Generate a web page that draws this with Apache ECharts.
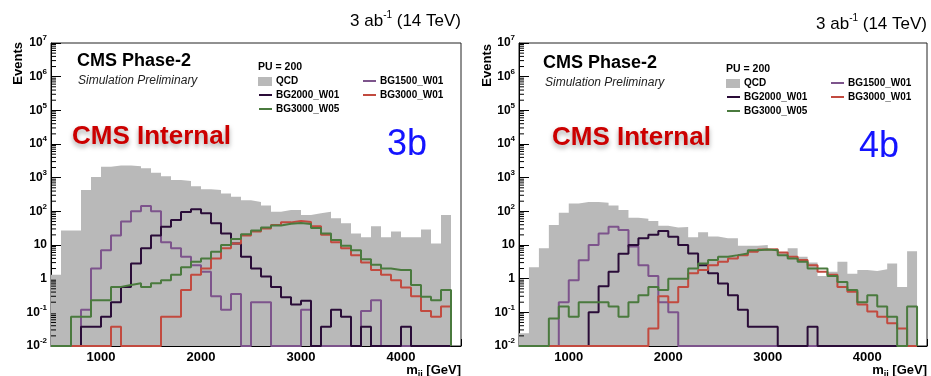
<!DOCTYPE html>
<html>
<head>
<meta charset="utf-8">
<script src="https://cdn.jsdelivr.net/npm/echarts@6/dist/echarts.min.js"></script>
<style>
  html, body { margin: 0; padding: 0; background: #fff; }
  #chart { width: 931px; height: 376px; }
</style>
</head>
<body>
<div id="chart"></div>
<script>
// bin lower edges in GeV (100 GeV bins), last bin ends at 4500
const binLow = [500, 600, 700, 800, 900, 1000, 1100, 1200, 1300, 1400,
  1500, 1600, 1700, 1800, 1900, 2000, 2100, 2200, 2300, 2400,
  2500, 2600, 2700, 2800, 2900, 3000, 3100, 3200, 3300, 3400,
  3500, 3600, 3700, 3800, 3900, 4000, 4100, 4200, 4300, 4400];
const binHigh = 4500;

const seriesNames = ["QCD", "BG1500_W01", "BG2000_W01", "BG3000_W01", "BG3000_W05"];
const panelTags = ["3b", "4b"];

// 3b selection
const qcd3b = [1.3, 27, 27, 430, 1050, 2100, 2300, 2300, 2200, 1900,
  1400, 1100, 850, 800, 560, 450, 430, 340, 270, 215,
  190, 150, 98, 110, 110, 78, 87, 98, 62, 44,
  22, 17, 36, 17, 25, 17, 17, 29, 11, 78];
const bg1500w01_3b = [0, 0, 0, 0.12, 2.0, 7, 19, 50, 100, 145,
  100, 12, 8, 4.5, 2.5, 1.6, 0.3, 0.12, 0.35, 0,
  0.2, 0.2, 0, 0, 0, 0.12, 0, 0, 0, 0,
  0, 0.11, 0.23, 0, 0, 0, 0, 0, 0, 0];
const bg2000w01_3b = [0, 0, 0, 0.037, 0.037, 0.074, 0.2, 0.57, 2.8, 8,
  19, 35, 55, 95, 115, 88, 44, 22, 11, 4.5,
  2, 1.15, 0.57, 0.28, 0.17, 0.22, 0, 0.037, 0.12, 0.074,
  0, 0.037, 0, 0, 0, 0.037, 0, 0, 0, 0];
const bg3000w01_3b = [0, 0, 0, 0, 0, 0, 0.037, 0, 0, 0,
  0, 0.074, 0.074, 0.46, 1.3, 2.0, 4, 8, 11, 19,
  25, 31, 39, 47, 52, 48, 36, 20, 12, 8,
  5, 3, 1.8, 1.3, 0.9, 0.55, 0.3, 0.11, 0.074, 0.15];
const bg3000w05_3b = [0, 0, 0.074, 0.074, 0.23, 0.23, 0.57, 0.65, 0.73, 0.57,
  0.73, 0.9, 1.3, 2.2, 3.2, 4, 6.3, 10, 15, 21,
  27, 33, 38, 43, 45, 42, 32, 22, 14, 9.5,
  7, 3.8, 2.6, 2.0, 1.8, 1.8, 0.65, 0.29, 0.23, 0.46];

// 4b selection
const qcd4b = [0.024, 2.2, 8, 39, 90, 170, 190, 190, 180, 150,
  110, 65, 60, 52, 37, 33, 34, 17, 24, 18,
  16, 16, 9.5, 9.5, 10, 7, 6, 8, 4.5, 3,
  1.2, 1.6, 3.2, 1.4, 1.8, 1.7, 1.9, 2.8, 0.57, 6.5];
const bg1500w01_4b = [0, 0, 0, 0, 0.2, 0.9, 3.5, 10, 22, 35,
  28, 9, 2.5, 1.2, 0.2, 0.1, 0, 0, 0, 0,
  0, 0, 0, 0, 0, 0, 0, 0, 0, 0,
  0, 0, 0, 0, 0, 0, 0, 0, 0, 0];
const bg2000w01_4b = [0, 0, 0, 0, 0, 0, 0, 0.1, 0.6, 1.6,
  5.5, 10, 16, 20, 26, 17.5, 10, 5.6, 2.5, 1.44,
  0.72, 0.32, 0.12, 0.037, 0.037, 0.037, 0, 0, 0, 0.037,
  0, 0, 0, 0, 0, 0, 0, 0, 0, 0];
const bg3000w01_4b = [0, 0, 0, 0, 0, 0, 0, 0, 0, 0,
  0, 0, 0, 0.033, 0.3, 0.2, 0.57, 1.44, 1.8, 2.5,
  3.2, 4, 5, 6.3, 7.4, 7.5, 6, 4.5, 3.6, 2.5,
  1.6, 1.3, 0.57, 0.41, 0.17, 0.105, 0.074, 0.047, 0.033, 0];
const bg3000w05_4b = [0, 0, 0, 0.066, 0.15, 0.074, 0.2, 0.2, 0.2, 0.15,
  0.074, 0.2, 0.32, 0.57, 0.46, 1.0, 1.0, 2.0, 2.8, 3.6,
  4.5, 5, 5.6, 7, 7.4, 7, 5, 4, 3.2, 2.0,
  2.0, 1.2, 0.8, 0.46, 0.2, 0.32, 0.15, 0.074, 0, 0.15];

const panelData = [
  [qcd3b, bg1500w01_3b, bg2000w01_3b, bg3000w01_3b, bg3000w05_3b],
  [qcd4b, bg1500w01_4b, bg2000w01_4b, bg3000w01_4b, bg3000w05_4b]
];

const colors = ["#b9b9b9", "#7d548c", "#2a0c38", "#c24a3f", "#4a7a3e"];
const font = '"Liberation Sans", Arial, Helvetica, sans-serif';
const xMin = 500, xMax = 4600, yMin = 0.01, yMax = 1e7;

// frame placement of each pad
const pads = [
  { left: 51, right: 461, dy: 0 },
  { left: 519, right: 927, dy: 2 }
];

// histogram outline: rise from the floor, step per bin, drop back at the end
function histPoints(values) {
  const pts = [[binLow[0], yMin]];
  binLow.forEach((x, i) => pts.push([x, Math.max(values[i], yMin)]));
  pts.push([binHigh, Math.max(values[values.length - 1], yMin)]);
  pts.push([binHigh, yMin]);
  return pts;
}

// ROOT style log minor ticks (2..9 in each decade)
const minorTicks = [];
for (let e = -2; e < 7; e++) {
  for (let m = 2; m <= 9; m++) minorTicks.push([xMin, m * Math.pow(10, e)]);
}

const yLabel = (v) => {
  const e = Math.round(Math.log10(v));
  if (e === 0) return "{b|1}";
  if (e === 1) return "{b|10}";
  return "{b|10}{s|" + e + "}";
};

const grids = [], xAxes = [], yAxes = [], series = [], graphics = [];

pads.forEach((pad, p) => {
  grids.push({
    left: pad.left, top: 43, width: pad.right - pad.left, height: 303,
    show: true, borderColor: "#222", borderWidth: 1, backgroundColor: "transparent"
  });
  xAxes.push({
    type: "value", gridIndex: p, min: xMin, max: xMax, interval: 500,
    axisLine: { show: true, onZero: false, lineStyle: { color: "#000", width: 1 } },
    axisTick: { show: true, inside: true, length: 7, lineStyle: { color: "#000" } },
    splitLine: { show: false },
    axisLabel: {
      margin: 5, color: "#000", fontFamily: font, fontWeight: "bold", fontSize: 13,
      formatter: (v) => (v % 1000 === 0 ? String(v) : "")
    }
  });
  yAxes.push({
    type: "log", logBase: 10, gridIndex: p, min: yMin, max: yMax, splitNumber: 9,
    axisLine: { show: true, lineStyle: { color: "#000", width: 1 } },
    axisTick: { show: true, inside: true, length: 10, lineStyle: { color: "#000" } },
    splitLine: { show: false },
    axisLabel: {
      margin: 4, color: "#000", fontFamily: font,
      formatter: yLabel,
      rich: {
        b: { fontSize: 12, fontWeight: "bold", fontFamily: font, lineHeight: 18, color: "#000" },
        s: { fontSize: 8, fontWeight: "bold", fontFamily: font, lineHeight: 9, verticalAlign: "top", color: "#000" }
      }
    }
  });

  panelData[p].forEach((values, k) => {
    const isQcd = k === 0;
    series.push({
      name: seriesNames[k],
      type: "line",
      xAxisIndex: p, yAxisIndex: p,
      data: histPoints(values),
      step: "end",
      symbol: "none",
      clip: false,
      silent: true,
      z: 2 + k,
      lineStyle: isQcd ? { width: 0, color: colors[0] } : { width: 2, color: colors[k] },
      areaStyle: isQcd ? { color: colors[0], opacity: 1, origin: "start" } : undefined
    });
  });

  series.push({
    type: "custom",
    xAxisIndex: p, yAxisIndex: p,
    data: minorTicks,
    silent: true,
    z: 20,
    renderItem: (params, api) => {
      const pt = api.coord([api.value(0), api.value(1)]);
      return {
        type: "line",
        shape: { x1: pt[0], y1: pt[1], x2: pt[0] + 5, y2: pt[1] },
        style: { stroke: "#000", lineWidth: 1 }
      };
    }
  });

  const L = pad.left, R = pad.right, dy = pad.dy;
  graphics.push(
    {
      type: "text", x: R, y: 21 + dy + (p ? 1 : 0),
      style: {
        text: "{a|3 ab}{s|-1}{a| (14 TeV)}", align: "right", verticalAlign: "middle",
        rich: {
          a: { fontSize: 17, fontFamily: font, lineHeight: 22, fill: "#000" },
          s: { fontSize: 10, fontFamily: font, lineHeight: 12, verticalAlign: "top", fill: "#000" }
        }
      }
    },
    {
      type: "text", x: L - 33 + (p ? 1 : 0), y: 42 + dy, rotation: Math.PI / 2,
      style: { text: "Events", font: "bold 13px " + font, fill: "#000", align: "right", verticalAlign: "middle" }
    },
    {
      type: "text", x: R, y: 370,
      style: {
        text: "{a|m}{s|jj}{a| [GeV]}", align: "right", verticalAlign: "middle",
        rich: {
          a: { fontSize: 13, fontWeight: "bold", fontFamily: font, lineHeight: 18, fill: "#000" },
          s: { fontSize: 9, fontWeight: "bold", fontFamily: font, lineHeight: 11, verticalAlign: "bottom", fill: "#000" }
        }
      }
    },
    {
      type: "text", x: L + 26 - (p ? 2 : 0), y: 61 + dy,
      style: { text: "CMS Phase-2", font: "bold 18px " + font, fill: "#000", verticalAlign: "middle" }
    },
    {
      type: "text", x: L + 27 - (p ? 1 : 0), y: 81 + dy,
      style: { text: "Simulation Preliminary", font: "italic 12px " + font, fill: "#222", verticalAlign: "middle" }
    },
    {
      type: "text", x: L + 207, y: 67 + dy,
      style: { text: "PU = 200", font: "bold 10.5px " + font, fill: "#000", verticalAlign: "middle" }
    },
    {
      type: "text", x: L + 21 + (p ? 12 : 0), y: 137 + dy / 2,
      style: {
        text: "CMS Internal", font: "bold 26px " + font, fill: "#cc0000", verticalAlign: "middle",
        textShadowColor: "rgba(0,0,0,0.35)", textShadowBlur: 5, textShadowOffsetY: 3
      }
    },
    {
      type: "text", x: R - 54 + (p ? 6 : 0), y: 145 + dy,
      style: { text: panelTags[p], font: "36px " + font, fill: "#1414ff", align: "center", verticalAlign: "middle" }
    }
  );

  // legend: QCD box, then line samples in two columns
  const colX = [L + 207, L + 311];
  const rowY = [81 + dy, 95 + dy, 109 + dy];
  const slots = [[0, 0], [1, 0], [0, 1], [1, 1], [0, 2]];
  seriesNames.forEach((name, k) => {
    const cx = colX[slots[k][0]], cy = rowY[slots[k][1]];
    if (k === 0) {
      graphics.push({ type: "rect", shape: { x: cx, y: cy - 4, width: 14, height: 9 }, style: { fill: colors[0] } });
    } else {
      graphics.push({ type: "line", shape: { x1: cx + 1, y1: cy, x2: cx + 14, y2: cy }, style: { stroke: colors[k], lineWidth: 2 } });
    }
    graphics.push({
      type: "text", x: cx + 18, y: cy,
      style: { text: name, font: "bold 10px " + font, fill: "#000", verticalAlign: "middle" }
    });
  });
});

const chart = echarts.init(document.getElementById("chart"), null, { renderer: "canvas" });
chart.setOption({
  animation: false,
  backgroundColor: "#fff",
  textStyle: { fontFamily: font },
  grid: grids,
  xAxis: xAxes,
  yAxis: yAxes,
  series: series,
  graphic: graphics
});
</script>
</body>
</html>
